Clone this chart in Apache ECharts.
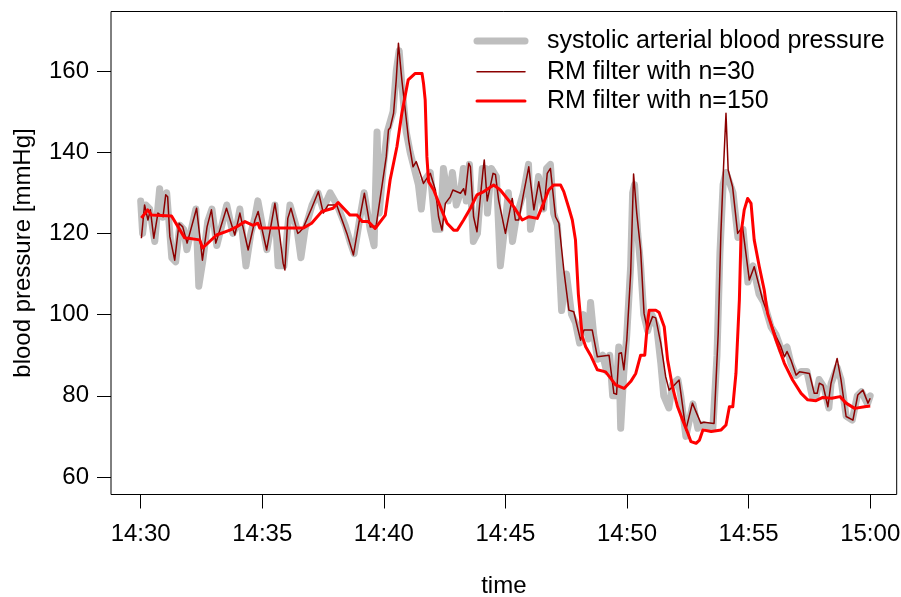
<!DOCTYPE html>
<html><head><meta charset="utf-8">
<script src="https://cdn.jsdelivr.net/npm/echarts@6/dist/echarts.min.js"></script>
<style>html,body{margin:0;padding:0;background:#fff}#c{width:901px;height:597px}</style>
</head><body><div id="c"></div>
<script>
// minutes after 14:30
const rawMinutes = [0,0.08,0.21,0.37,0.58,0.78,0.91,1.07,1.28,1.44,1.61,1.77,1.90,2.27,2.39,2.55,2.76,2.93,3.13,3.34,3.54,3.79,3.96,4.08,4.33,4.53,4.70,4.82,5.19,5.52,5.65,5.89,6.14,6.43,6.59,6.76,7.05,7.29,7.50,7.79,8.08,8.41,8.61,8.78,9.02,9.19,9.44,9.60,9.72,9.81,9.97,10.14,10.38,10.51,10.63,10.75,10.92,11.08,11.25,11.42,11.54,11.66,11.91,12.12,12.32,12.45,12.65,12.82,12.98,13.15,13.27,13.39,13.52,13.68,13.85,14.05,14.18,14.26,14.42,14.63,14.79,14.96,15.12,15.29,15.45,15.74,15.95,16.03,16.20,16.36,16.57,16.69,16.85,16.98,17.14,17.31,17.51,17.72,17.88,18.05,18.21,18.42,18.50,18.63,18.79,19.00,19.16,19.29,19.41,19.54,19.66,19.74,19.86,19.99,20.15,20.23,20.31,20.44,20.56,20.69,20.85,21.02,21.22,21.39,21.51,21.72,21.88,22.09,22.21,22.42,22.71,22.91,23.12,23.53,23.70,23.82,23.95,24.07,24.19,24.36,24.56,24.77,24.97,25.18,25.43,25.63,25.92,26.13,26.37,26.58,26.74,26.95,27.16,27.40,27.61,27.78,27.90,28.11,28.30,28.39,28.64,28.80,29.01,29.26,29.47,29.64,29.89,30.0];
const rawSystolic = [128,120,127,126,118,131,124,130,114,113,122,121,116,126,107,113,123,126,117,122,127,120,122,126,112,120,124,128,116,127,112,112,127,121,114,121,127,130,126,130,127,122,118,115,124,130,121,117,145,125,136,145,150,160,165,156,145,140,136,132,126,133,135,121,121,136,128,135,127,130,136,128,137,118,120,136,136,125,136,134,112,121,130,118,124,130,137,121,126,134,126,136,137,125,122,101,110,100,98,93,100,94,103,95,89,90,86,90,80,80,92,72,85,95,112,130,132,120,112,100,96,100,97,88,80,77,83,84,80,70,78,72,73,72,90,115,132,135,133,130,119,121,108,112,105,103,97,95,91,92,88,85,86,86,80,80,84,82,77,83,87,84,75,74,80,81,78,80];

const rm30Minutes = [0.03,0.16,0.30,0.40,0.54,0.71,0.92,1.03,1.11,1.20,1.40,1.58,1.73,1.91,2.30,2.54,2.73,2.91,3.09,3.53,3.61,3.87,4.08,4.42,4.70,4.83,5.18,5.52,5.69,5.86,5.93,6.05,6.18,6.46,6.55,6.68,7.03,7.31,7.51,7.71,8.06,8.48,8.75,9.02,9.20,9.44,9.68,9.98,10.10,10.19,10.26,10.40,10.51,10.60,10.74,10.88,11.02,11.20,11.33,11.43,11.63,11.91,12.12,12.25,12.39,12.53,12.73,12.84,13.15,13.28,13.35,13.49,13.56,13.69,13.83,14.08,14.13,14.25,14.49,14.59,14.72,15.00,15.28,15.41,15.55,15.75,15.96,16.17,16.37,16.58,16.72,16.85,17.06,17.20,17.40,17.61,17.81,18.09,18.23,18.57,18.78,19.26,19.46,19.57,19.67,19.77,19.87,19.99,20.15,20.27,20.40,20.56,20.70,20.84,21.05,21.18,21.39,21.59,21.73,21.92,22.14,22.42,22.69,23.04,23.16,23.58,23.75,23.86,23.97,24.07,24.16,24.34,24.55,24.75,25.03,25.23,25.58,25.92,26.13,26.33,26.47,26.58,26.74,26.95,27.09,27.50,27.70,27.82,27.91,28.06,28.26,28.39,28.64,28.80,29.01,29.29,29.49,29.70,29.91,30.0];
const rm30Values = [118.8,127,123.3,125.8,118.8,125,124.1,129.5,129,119.2,113.4,122.5,121.6,117.6,126.2,113.4,121.6,125.8,117.6,126.2,126.5,119.6,125,115.9,123.3,125.4,115.9,127.4,120.8,112.6,111,123.7,126.2,120,120.4,121.3,126.2,130.3,125,127,127,120,114.7,124.1,129.9,121.6,121.8,134,138.9,145.5,146,149.6,157.8,166.8,157.8,150.4,143,136.4,137.7,136,132.3,134.8,130.7,124.1,120.8,127.4,129,130.7,129.9,131,129.5,137.3,136.4,124.1,120.4,135.6,138.1,128,134.8,134.5,128.2,120,128.6,123.3,123.3,129.9,136.4,125.8,132.7,125.8,134.8,136,124.1,122.5,111,101.1,100.7,93.7,96.2,96.2,89.6,90,80.6,80.4,90.4,90.6,86.4,93.7,110.2,134.6,125,115.9,100.3,96.2,99.5,99.2,92.9,84.7,81.4,82.5,83.9,71.6,78.2,73.2,73.5,73.2,95.4,120,136.4,149.6,135.6,131.5,120,121.6,108.5,111.8,103.6,97.9,94.6,92.1,89.6,90.9,88.8,85.1,85.9,85.5,80.6,80.6,83.1,82.6,77.3,83.1,89.2,83.9,74.9,74,80.2,81.4,78.2,79.4];

const rm150Minutes = [0.03,0.29,0.45,1.27,1.81,2.43,2.55,3.12,3.67,3.94,4.29,4.62,4.82,4.90,6.68,7.03,7.45,7.91,8.12,8.61,8.90,9.11,9.36,9.64,10.06,10.26,10.54,10.74,11.00,11.29,11.57,11.63,11.70,11.77,11.84,12.05,12.32,12.60,12.87,13.02,13.28,13.56,13.83,14.11,14.52,14.79,15.07,15.34,15.69,15.96,16.31,16.51,16.78,16.98,17.27,17.40,17.61,17.75,17.88,18.00,18.16,18.30,18.50,18.78,19.12,19.33,19.53,19.88,20.15,20.36,20.56,20.73,20.84,20.91,21.18,21.32,21.53,21.67,21.87,22.08,22.29,22.50,22.63,22.84,22.98,23.12,23.46,23.87,24.07,24.21,24.35,24.48,24.62,24.69,24.82,24.96,25.10,25.23,25.44,25.64,25.78,26.13,26.47,26.81,27.16,27.43,27.77,28.05,28.42,28.76,29.01,29.36,29.77,30.0];
const rm150Values = [123.8,125.8,124.5,124.3,118.9,118.4,116.4,119.6,120.8,121.6,122.9,122,122.5,121.3,121.3,122.5,125.4,126.2,127.6,124.5,124.5,122.9,122.9,121.2,124.5,133.2,141.4,149.6,157.8,159.4,159.4,157,152.9,138.9,132.7,130.7,126.6,122.5,120.8,120.8,123.3,126.2,129.5,130.3,131.9,130.7,128.6,126.6,123.3,124.1,123.7,126.6,130.7,131.9,131.9,130.3,126.2,123.3,118.4,105,94.6,92.1,90,86.4,85.9,84.3,82.7,81.8,83.5,85.5,90,90,97.9,101.1,101.1,100.5,97,88.8,82.2,77.3,74,70.8,68.7,68.3,69.1,71.6,71.2,71.6,72.8,77.3,77.3,85.5,103.6,120,125.8,128.6,127.4,118.4,111.8,106.1,100.3,93.7,88,83.9,80.6,79,78.8,79.6,79.4,79.8,78.2,76.9,77.3,77.5];

const xTickMinutes = [0,5,10,15,20,25,30];
const xTickLabels = ['14:30','14:35','14:40','14:45','14:50','14:55','15:00'];
const yTicks = [60,80,100,120,140,160];
const seriesNames = ['systolic arterial blood pressure','RM filter with n=30','RM filter with n=150'];
const seriesColors = ['#BEBEBE','#8B0000','#FF0000'];

const zip = (a,b) => a.map((t,i) => [t,b[i]]);
const FONT = "'Liberation Sans', Arial, Helvetica, sans-serif";
const chart = echarts.init(document.getElementById('c'), null, {renderer:'canvas'});

const legendGraphics = [];
const legendWidths = [7,1.5,3];
const legendY = [41,71.7,101];
seriesNames.forEach((n,i) => {
  legendGraphics.push({type:'line', shape:{x1:477,y1:legendY[i],x2:525,y2:legendY[i]},
    style:{stroke:seriesColors[i], lineWidth:legendWidths[i], lineCap:'round'}, silent:true});
  legendGraphics.push({type:'text', x:547, y:legendY[i],
    style:{text:n, fill:'#000', font:'25px '+FONT, textVerticalAlign:'middle', textAlign:'left'}, silent:true});
});

chart.setOption({
  animation:false,
  backgroundColor:'#fff',
  grid:{left:111, right:4.3, top:11.5, bottom:102.5, show:true, borderColor:'#000', borderWidth:1,
    containLabel:false, outerBoundsMode:'none'},
  xAxis:{type:'value', min:-1.22, max:31.09,
    axisLine:{show:false, onZero:false}, splitLine:{show:false},
    axisTick:{show:true, customValues:xTickMinutes, length:14, lineStyle:{color:'#000', width:1}},
    axisLabel:{customValues:xTickMinutes, formatter:v => xTickLabels[xTickMinutes.indexOf(v)] || '', fontSize:24, fontFamily:FONT, color:'#000', margin:28},
    name:'time', nameLocation:'middle', nameGap:80, nameTextStyle:{fontSize:24, fontFamily:FONT, color:'#000'}},
  yAxis:{type:'value', min:55.69, max:174.65,
    axisLine:{show:false, onZero:false}, splitLine:{show:false},
    axisTick:{show:true, customValues:yTicks, length:14, lineStyle:{color:'#000', width:1}},
    axisLabel:{customValues:yTicks, fontSize:24, fontFamily:FONT, color:'#000', margin:22},
    name:'blood pressure [mmHg]', nameLocation:'middle', nameGap:76, nameTextStyle:{fontSize:24, fontFamily:FONT, color:'#000'}},
  graphic:legendGraphics,
  series:[
    {name:seriesNames[0], type:'line', data:zip(rawMinutes,rawSystolic), showSymbol:false, symbol:'none', silent:true,
      lineStyle:{color:seriesColors[0], width:7, cap:'round', join:'round'}, z:1},
    {name:seriesNames[1], type:'line', data:zip(rm30Minutes,rm30Values), showSymbol:false, symbol:'none', silent:true,
      lineStyle:{color:seriesColors[1], width:1.5, join:'round'}, z:2},
    {name:seriesNames[2], type:'line', data:zip(rm150Minutes,rm150Values), showSymbol:false, symbol:'none', silent:true,
      lineStyle:{color:seriesColors[2], width:3, join:'round'}, z:3}
  ]
});
</script></body></html>
